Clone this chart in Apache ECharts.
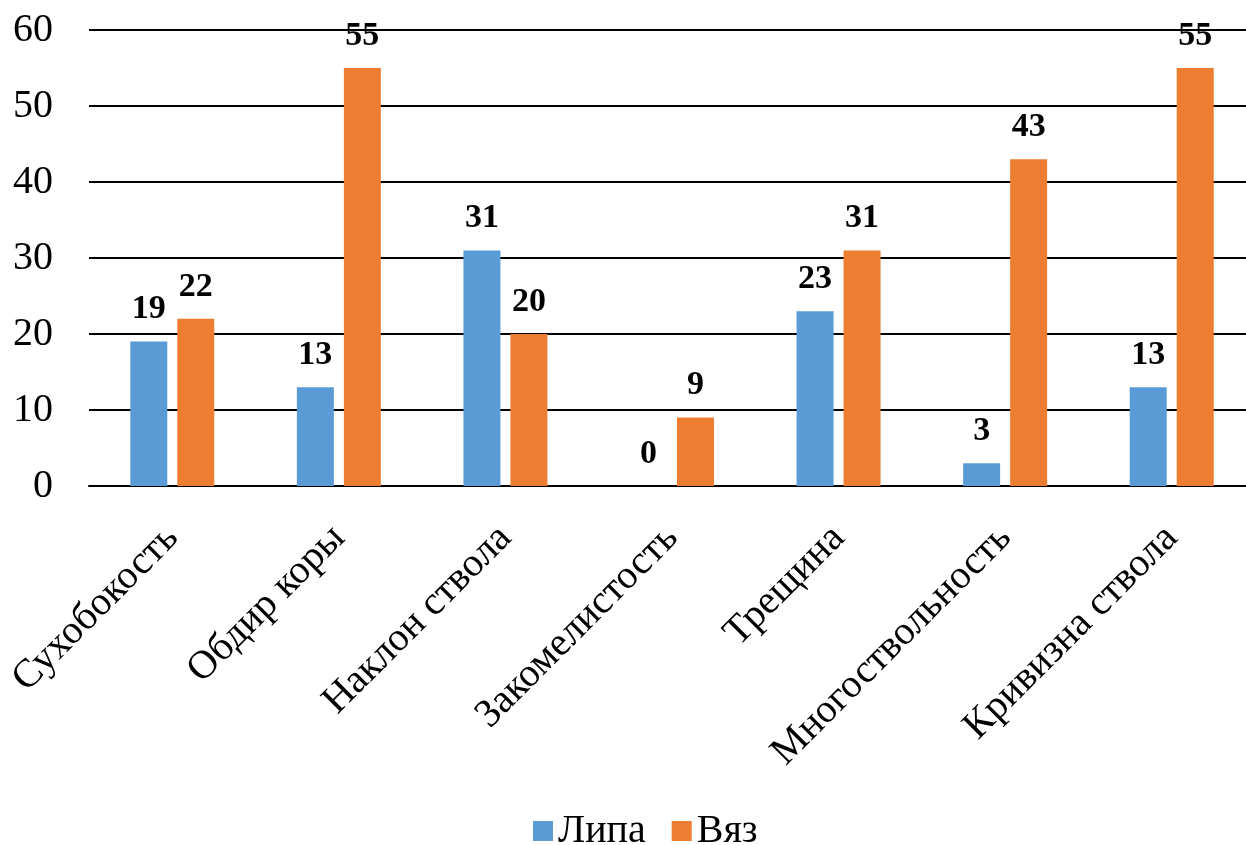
<!DOCTYPE html>
<html><head><meta charset="utf-8">
<script src="https://cdn.jsdelivr.net/npm/echarts@6/dist/echarts.min.js"></script>
<style>html,body{margin:0;padding:0;background:#fff}#c{width:1246px;height:845px}</style>
</head><body><div id="c"></div>
<script>
const categories = ['Сухобокость','Обдир коры','Наклон ствола','Закомелистость','Трещина','Многоствольность','Кривизна ствола'];
const lipa = [19, 13, 31, 0, 23, 3, 13];
const vyaz = [22, 55, 20, 9, 31, 43, 55];
const seriesNames = ['Липа', 'Вяз'];
const yTicks = {min: 0, max: 60, interval: 10};

const font = 'Liberation Serif, Times New Roman, serif';
const chart = echarts.init(document.getElementById('c'), null, {renderer: 'canvas'});
const labelCfg = {show: true, position: 'top', distance: 15, color: '#000', fontFamily: font, fontSize: 34, fontWeight: 'bold'};
chart.setOption({
  animation: false,
  textStyle: {fontFamily: font},
  grid: {left: 89, top: 30, width: 1166, bottom: 359, containLabel: false, outerBoundsMode: 'none'},
  legend: {
    data: seriesNames, left: 528, top: 806, itemWidth: 20, itemHeight: 20, itemGap: 26,
    icon: 'rect', textStyle: {fontFamily: font, fontSize: 40, color: '#000'}
  },
  xAxis: {
    type: 'category', data: categories,
    axisLine: {lineStyle: {color: '#000', width: 2}},
    axisTick: {show: false},
    axisLabel: {rotate: 45, margin: 46, interval: 0, fontFamily: font, fontSize: 40, color: '#000'}
  },
  yAxis: {
    type: 'value', min: yTicks.min, max: yTicks.max, interval: yTicks.interval,
    axisLine: {show: false}, axisTick: {show: false},
    splitLine: {lineStyle: {color: '#000', width: 2}},
    axisLabel: {margin: 36, fontFamily: font, fontSize: 40, color: '#000'}
  },
  series: [
    {name: seriesNames[0], type: 'bar', data: lipa, barWidth: 37, barGap: '27%', itemStyle: {color: '#5B9BD5'}, label: labelCfg},
    {name: seriesNames[1], type: 'bar', data: vyaz, barWidth: 37, itemStyle: {color: '#ED7D31'}, label: labelCfg}
  ]
});
</script></body></html>
